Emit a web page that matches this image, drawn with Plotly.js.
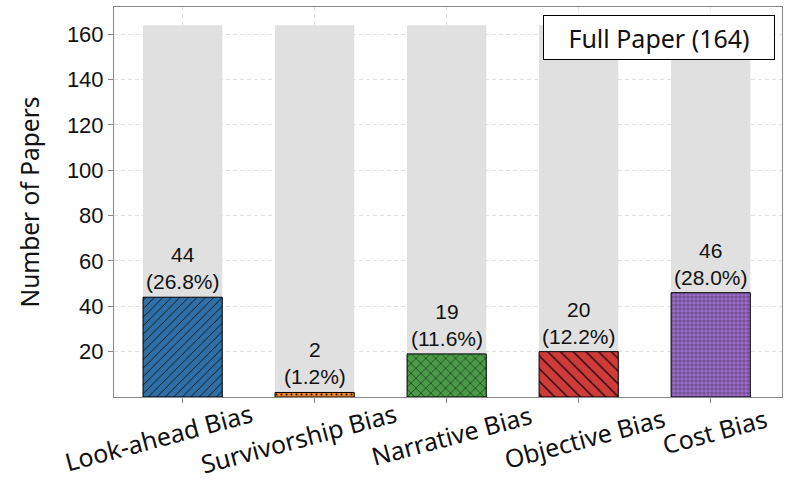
<!DOCTYPE html>
<html><head><meta charset="utf-8">
<script src="https://cdn.plot.ly/plotly-3.0.1.min.js"></script>
<style>body{margin:0;background:#fff}#c{width:797px;height:499px}</style>
</head><body><div id="c"></div>
<script>
const categories = ["Look-ahead Bias","Survivorship Bias","Narrative Bias","Objective Bias","Cost Bias"];
const counts = [44, 2, 19, 20, 46];
const total = 164;
const percents = ["26.8%","1.2%","11.6%","12.2%","28.0%"];
const colors = ["#2f6fa6","#f08a2c","#4a9a48","#cf3b3b","#9a6cc8"];
const hatches = ["/",".","x","\\","+"];
const hatchSizes = [6,5,7,9,4];
const legendText = "Full Paper (164)";
const yTicks = [20,40,60,80,100,120,140,160];

// label placement tweaks (pixels)
const labelShiftX = [-24,-16,5,6,4];
const labelShiftY = [-40,-41,-38,-41,-34];

const bg = {
  type:"bar", x:categories, y:categories.map(()=>total), width:0.6,
  marker:{color:"#e0e0e0", line:{width:0}}, hoverinfo:"skip", showlegend:false
};
const fgTraces = categories.map((c,i)=>({
  type:"bar", x:[c], y:[counts[i]], width:0.6, name:c,
  marker:{color:colors[i], line:{color:"#000", width:1},
    pattern:{shape:hatches[i], fillmode:"overlay", fgcolor:"#000", fgopacity:0.9,
      size:hatchSizes[i], solidity:0.14}},
  showlegend:false
}));
const LBL = "Noto Sans, Liberation Sans, Arial";
const annotations = categories.map((c,i)=>({
  x:c, y:counts[i], yshift:2, text:counts[i]+"<br>("+percents[i]+")",
  showarrow:false, yanchor:"bottom", font:{size:21, color:"#111", family:"Liberation Sans, Arial"}
}));
categories.forEach((c,i)=>annotations.push({
  x:c, xref:"x", yref:"paper", y:0, xshift:labelShiftX[i], yshift:labelShiftY[i],
  text:c, textangle:-15, showarrow:false, xanchor:"center", yanchor:"middle",
  font:{size:25, color:"#111", family:LBL}
}));
annotations.push({
  xref:"paper", yref:"paper", x:0.9895, y:0.9795, xanchor:"right", yanchor:"top",
  text:legendText, showarrow:false, bordercolor:"#000", borderwidth:1, borderpad:0,
  width:230, height:43, align:"center", valign:"middle",
  bgcolor:"#fff", font:{size:25, color:"#111", family:LBL}
});
const layout = {
  width:797, height:499, margin:{l:114, r:15, t:7, b:102},
  barmode:"overlay", plot_bgcolor:"#fff", paper_bgcolor:"#fff",
  font:{family:"Liberation Sans, Arial", color:"#111"},
  xaxis:{range:[-0.52,4.54], showticklabels:false, type:"category",
    showgrid:true, gridcolor:"#e2e2e2", griddash:"4px,3px", gridwidth:1,
    showline:true, linecolor:"#888", mirror:true, ticks:"outside", ticklen:5, tickcolor:"#888"},
  yaxis:{range:[0,172], tickvals:yTicks, tickfont:{size:22},
    title:{text:"Number of Papers", font:{size:24.5, family:LBL}, standoff:20},
    showgrid:true, gridcolor:"#e2e2e2", griddash:"4px,3px", gridwidth:1,
    showline:true, linecolor:"#888", mirror:true, ticks:"outside", ticklen:5, tickcolor:"#888", zeroline:false},
  annotations:annotations
};
Plotly.newPlot("c",[bg].concat(fgTraces),layout,{displayModeBar:false});
</script></body></html>
